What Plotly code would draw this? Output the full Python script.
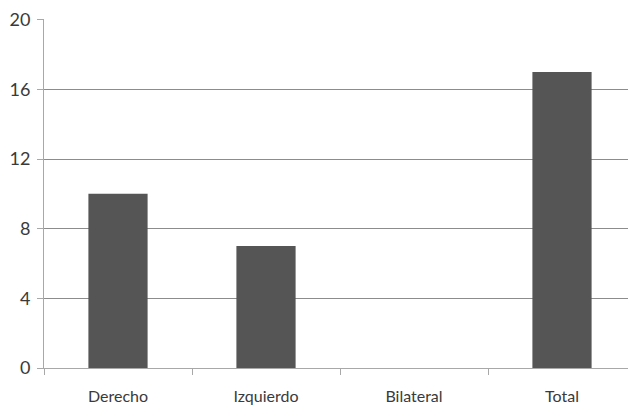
import plotly.graph_objects as go

categories = ["Derecho", "Izquierdo", "Bilateral", "Total"]
values = [10, 7, 0, 17]
y_ticks = [0, 4, 8, 12, 16, 20]

fig = go.Figure()
fig.add_trace(go.Bar(
    x=categories, y=values,
    marker=dict(color="#555555", line=dict(width=0)),
    width=0.4,
))

fig.update_layout(
    width=628, height=398,
    margin=dict(l=36, r=0, t=11, b=38),
    paper_bgcolor="white", plot_bgcolor="white",
    showlegend=False,
    font=dict(family="Lato, Open Sans, sans-serif", size=16, color="#3a3a3a"),
)
fig.update_xaxes(
    type="category", tickson="boundaries", automargin=False,
    showgrid=False, showline=True, linecolor="#a8a8a8", linewidth=1,
    ticks="outside", ticklen=6, tickcolor="#a8a8a8",
    ticklabelstandoff=14,
    tickfont=dict(size=16, color="#3a3a3a"),
    range=[-0.5, 3.5],
)
fig.update_yaxes(
    range=[0, 20.04], tickvals=y_ticks, automargin=False,
    ticklabeloverflow="allow",
    showgrid=True, gridcolor="#8c8c8c", gridwidth=1,
    showline=True, linecolor="#a8a8a8", linewidth=1,
    ticks="outside", ticklen=6, tickcolor="#a8a8a8",
    ticklabelstandoff=3,
    tickfont=dict(size=18, color="#3a3a3a"),
    zeroline=False,
)

fig.write_html("out.html")
